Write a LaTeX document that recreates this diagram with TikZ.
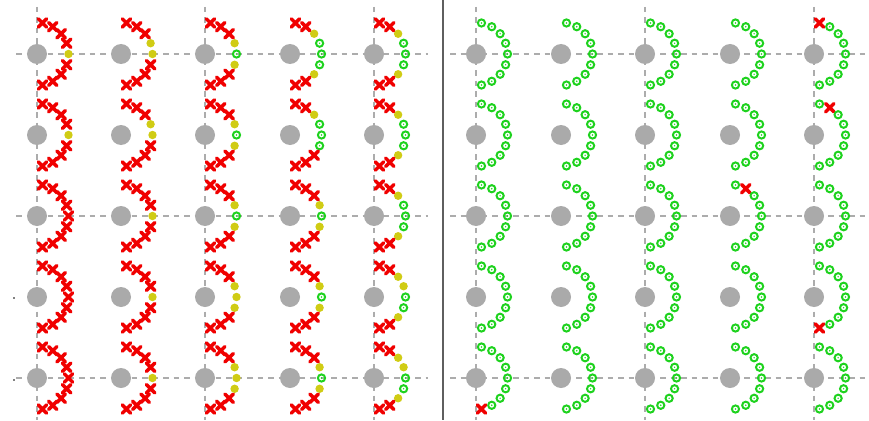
\documentclass[tikz,border=0pt]{standalone}
\definecolor{gridgray}{RGB}{172,172,172}
\definecolor{diskgray}{RGB}{170,170,170}
\definecolor{mred}{RGB}{240,0,0}
\definecolor{myel}{RGB}{208,204,20}
\definecolor{mgreen}{RGB}{30,210,30}
\definecolor{sepgray}{RGB}{95,95,95}
\tikzset{
  mkX/.pic={\draw[mred,line width=3.5pt,line cap=round] (-4.2,-4.2)--(4.2,4.2) (-4.2,4.2)--(4.2,-4.2);},
  mkY/.pic={\fill[myel] (0,0) circle (4.2);},
  mkG/.pic={\draw[mgreen,line width=2pt] (0,0) circle (3.6); \fill[mgreen] (0,0) circle (0.8);},
  gridline/.style={gridgray,line width=1.6pt,dash pattern=on 5.5pt off 5pt},
  sepline/.style={sepgray,line width=1.8pt},
}
\newcommand\cellmk[3]{%
  \begin{scope}[shift={(#1,#2)}]
    \fill[diskgray] (0,0) circle (10);
    \foreach \m [count=\i from 0] in {#3} {
      \pgfmathsetmacro\ang{-80+20*\i}
      \pic at (\ang:31.5) {mk\m};
    }
  \end{scope}%
}
\begin{document}
\begin{tikzpicture}[x=1pt,y=-1pt]
\useasboundingbox[fill=white] (0,0) rectangle (869,420);
% grid lines
\foreach \gx in {37,205,374,476,645,814} \draw[gridline] (\gx,7) -- (\gx,420);
\foreach \gy in {54,216,378} {
  \draw[gridline] (16,\gy) -- (428,\gy);
  \draw[gridline] (450,\gy) -- (867,\gy);
}
% separator
\draw[sepline] (443,0) -- (443,420);
% tiny marks
\fill[black] (14,298) circle (0.8);
\fill[black] (14,380) circle (0.8);
% left panel
\cellmk{37}{54}{X,X,X,X,Y,X,X,X,X}
\cellmk{121}{54}{X,X,X,Y,Y,X,X,X,X}
\cellmk{205}{54}{X,X,X,Y,G,Y,X,X,X}
\cellmk{290}{54}{X,X,Y,G,G,G,Y,X,X}
\cellmk{374}{54}{X,X,Y,G,G,G,Y,X,X}
\cellmk{37}{135}{X,X,X,X,Y,X,X,X,X}
\cellmk{121}{135}{X,X,X,Y,Y,X,X,X,X}
\cellmk{205}{135}{X,X,X,Y,G,Y,X,X,X}
\cellmk{290}{135}{X,X,Y,G,G,G,X,X,X}
\cellmk{374}{135}{X,X,Y,G,G,G,Y,X,X}
\cellmk{37}{216}{X,X,X,X,X,X,X,X,X}
\cellmk{121}{216}{X,X,X,X,Y,X,X,X,X}
\cellmk{205}{216}{X,X,X,Y,G,Y,X,X,X}
\cellmk{290}{216}{X,X,X,Y,G,Y,X,X,X}
\cellmk{374}{216}{X,X,Y,G,G,G,Y,X,X}
\cellmk{37}{297}{X,X,X,X,X,X,X,X,X}
\cellmk{121}{297}{X,X,X,X,Y,X,X,X,X}
\cellmk{205}{297}{X,X,X,Y,Y,Y,X,X,X}
\cellmk{290}{297}{X,X,X,Y,G,Y,X,X,X}
\cellmk{374}{297}{X,X,Y,Y,G,G,Y,X,X}
\cellmk{37}{378}{X,X,X,X,X,X,X,X,X}
\cellmk{121}{378}{X,X,X,X,Y,X,X,X,X}
\cellmk{205}{378}{X,X,X,Y,Y,Y,X,X,X}
\cellmk{290}{378}{X,X,X,Y,G,Y,X,X,X}
\cellmk{374}{378}{X,X,Y,Y,G,G,Y,X,X}
% right panel
\cellmk{476}{54}{G,G,G,G,G,G,G,G,G}
\cellmk{561}{54}{G,G,G,G,G,G,G,G,G}
\cellmk{645}{54}{G,G,G,G,G,G,G,G,G}
\cellmk{730}{54}{G,G,G,G,G,G,G,G,G}
\cellmk{814}{54}{X,G,G,G,G,G,G,G,G}
\cellmk{476}{135}{G,G,G,G,G,G,G,G,G}
\cellmk{561}{135}{G,G,G,G,G,G,G,G,G}
\cellmk{645}{135}{G,G,G,G,G,G,G,G,G}
\cellmk{730}{135}{G,G,G,G,G,G,G,G,G}
\cellmk{814}{135}{G,X,G,G,G,G,G,G,G}
\cellmk{476}{216}{G,G,G,G,G,G,G,G,G}
\cellmk{561}{216}{G,G,G,G,G,G,G,G,G}
\cellmk{645}{216}{G,G,G,G,G,G,G,G,G}
\cellmk{730}{216}{G,X,G,G,G,G,G,G,G}
\cellmk{814}{216}{G,G,G,G,G,G,G,G,G}
\cellmk{476}{297}{G,G,G,G,G,G,G,G,G}
\cellmk{561}{297}{G,G,G,G,G,G,G,G,G}
\cellmk{645}{297}{G,G,G,G,G,G,G,G,G}
\cellmk{730}{297}{G,G,G,G,G,G,G,G,G}
\cellmk{814}{297}{G,G,G,G,G,G,G,G,X}
\cellmk{476}{378}{G,G,G,G,G,G,G,G,X}
\cellmk{561}{378}{G,G,G,G,G,G,G,G,G}
\cellmk{645}{378}{G,G,G,G,G,G,G,G,G}
\cellmk{730}{378}{G,G,G,G,G,G,G,G,G}
\cellmk{814}{378}{G,G,G,G,G,G,G,G,G}
\end{tikzpicture}
\end{document}
